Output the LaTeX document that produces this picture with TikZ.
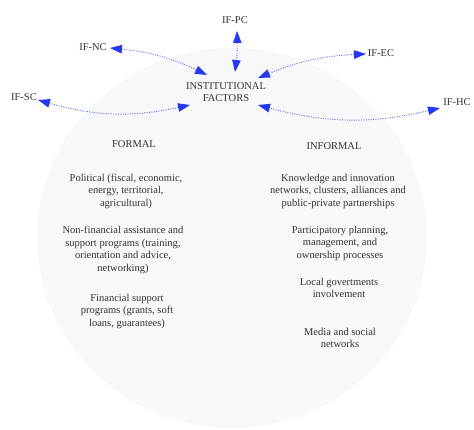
\documentclass[tikz,border=0pt]{standalone}
\usepackage{fontspec}
\setmainfont{Liberation Serif}
\newfontfamily\tnr{Liberation Serif}
\usetikzlibrary{arrows.meta}
\definecolor{circfill}{RGB}{247,248,249}
\definecolor{tipblue}{RGB}{38,56,240}
\definecolor{lineblue}{RGB}{95,110,230}
\definecolor{txt}{RGB}{50,50,50}
\begin{document}
\begin{tikzpicture}[x=1pt,y=-1pt,
  lbl/.style={text=txt,font=\tnr\fontsize{10.5}{12.5}\selectfont,inner sep=0pt,align=center},
  link/.style={draw=lineblue,line width=0.9pt,dash pattern=on 1pt off 1.4pt,
    {Triangle[length=12pt,width=8.5pt,fill=tipblue,color=tipblue]}-{Triangle[length=12pt,width=8.5pt,fill=tipblue,color=tipblue]}}]
\useasboundingbox (0,0) rectangle (474,430);
\fill[circfill] (232,238) ellipse [x radius=195, y radius=190];
\node[lbl] (inst) at (226,92) {INSTITUTIONAL\\FACTORS};
\node[lbl] (pc) at (235,20) {IF-PC};
\node[lbl] (nc) at (93,47) {IF-NC};
\node[lbl] (ec) at (381,53) {IF-EC};
\node[lbl] (sc) at (24,97) {IF-SC};
\node[lbl] (hc) at (457,102) {IF-HC};
\node[lbl] (formal) at (134,144) {FORMAL};
\node[lbl] (informal) at (334,146) {INFORMAL};
\node[lbl] (pol) at (126,191) {Political (fiscal, economic,\\energy, territorial,\\agricultural)};
\node[lbl] (nonfin) at (123,250) {Non-financial assistance and\\support programs (training,\\orientation and advice,\\networking)};
\node[lbl] (fin) at (127,311) {Financial support\\programs (grants, soft\\loans, guarantees)};
\node[lbl] (know) at (338,191) {Knowledge and innovation\\networks, clusters, alliances and\\public-private partnerships};
\node[lbl] (part) at (340,243) {Participatory planning,\\management, and\\ownership processes};
\node[lbl] (local) at (339,288) {Local govertments\\involvement};
\node[lbl] (media) at (340,338) {Media and social\\networks};
\draw[link] ([shift={(2,11)}]pc.center) to[bend left=4] ([shift={(9,-20)}]inst.center);
\draw[link] ([shift={(17,1)}]nc.center) to[bend left=10] ([shift={(-19,-17)}]inst.center);
\draw[link] ([shift={(-15,1)}]ec.center) to[bend right=10] ([shift={(32,-14)}]inst.center);
\draw[link] ([shift={(14,3)}]sc.center) to[bend right=14] ([shift={(-36,13)}]inst.center);
\draw[link] ([shift={(-17,6)}]hc.center) to[bend left=14] ([shift={(32,13)}]inst.center);
\end{tikzpicture}
\end{document}
